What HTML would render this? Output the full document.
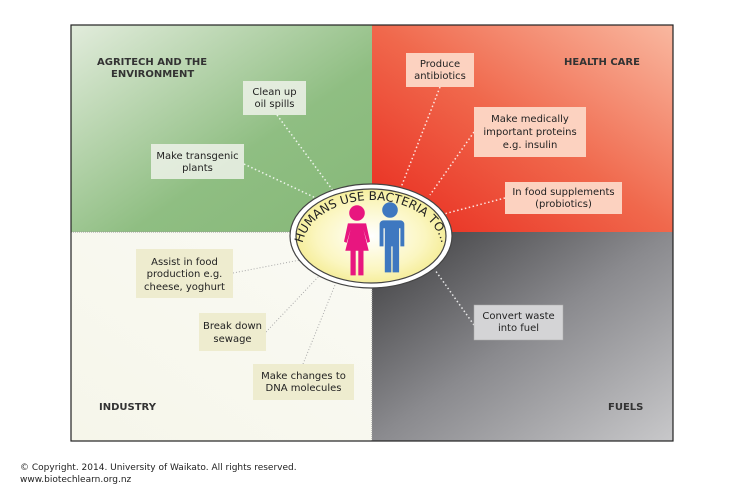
<!DOCTYPE html>
<html><head><style>
body{margin:0;background:#fff;width:750px;height:500px;overflow:hidden;font-family:"DejaVu Sans","Liberation Sans",sans-serif;}
</style></head><body>
<svg width="750" height="500" xmlns="http://www.w3.org/2000/svg" font-family="DejaVu Sans, Liberation Sans, sans-serif">
<defs>
<linearGradient id="g1" x1="0" y1="0" x2="1" y2="1"><stop offset="0" stop-color="#e2ecdc"/><stop offset="0.6" stop-color="#8fbe82"/><stop offset="1" stop-color="#86b878"/></linearGradient>
<linearGradient id="g2" x1="0" y1="1" x2="1" y2="0"><stop offset="0" stop-color="#e8281c"/><stop offset="0.5" stop-color="#f0684c"/><stop offset="1" stop-color="#f9b8a0"/></linearGradient>
<linearGradient id="g3" x1="0" y1="1" x2="1" y2="0"><stop offset="0" stop-color="#f6f6ea"/><stop offset="1" stop-color="#fafaf4"/></linearGradient>
<linearGradient id="g4" x1="0" y1="0" x2="1" y2="1"><stop offset="0" stop-color="#3a3a3c"/><stop offset="0.5" stop-color="#8a8a8e"/><stop offset="1" stop-color="#c8c8ca"/></linearGradient>
<radialGradient id="ge" cx="0.5" cy="0.5" r="0.6"><stop offset="0" stop-color="#ffffff"/><stop offset="0.6" stop-color="#fbf6c0"/><stop offset="1" stop-color="#f2e882"/></radialGradient>
<path id="arc" d="M 302 250 A 70 50 0 0 1 442 250"/>
</defs>
<rect x="71" y="25" width="301" height="207" fill="url(#g1)"/>
<rect x="372" y="25" width="301" height="207" fill="url(#g2)"/>
<rect x="71" y="232" width="301" height="209" fill="url(#g3)"/>
<rect x="372" y="232" width="301" height="209" fill="url(#g4)"/>
<line x1="71" y1="232" x2="372" y2="232" stroke="#999" stroke-dasharray="1,1"/>
<line x1="372" y1="232" x2="372" y2="441" stroke="#999" stroke-dasharray="1,1"/>
<rect x="71" y="25" width="602" height="416" fill="none" stroke="#222" stroke-width="1.2"/>
<g stroke="#fff" stroke-width="1.5" stroke-dasharray="1.5,2.5" fill="none" opacity="0.85">
<line x1="277" y1="115" x2="340" y2="200"/>
<line x1="244" y1="164" x2="320" y2="200"/>
<line x1="440" y1="87" x2="400" y2="190"/>
<line x1="474" y1="132" x2="430" y2="195"/>
<line x1="505" y1="198" x2="440" y2="215"/>
<line x1="474" y1="325" x2="435" y2="270"/>
</g>
<g stroke="#aaa" stroke-width="1" stroke-dasharray="1,2" fill="none">
<line x1="233" y1="273" x2="300" y2="260"/>
<line x1="266" y1="332" x2="320" y2="275"/>
<line x1="303" y1="364" x2="335" y2="285"/>
</g>
<ellipse cx="371" cy="236" rx="81" ry="52" fill="#fff" stroke="#444" stroke-width="1.2"/>
<ellipse cx="371" cy="236" rx="75" ry="47" fill="url(#ge)" stroke="#444" stroke-width="1.2"/>
<text font-size="12" fill="#222"><textPath href="#arc" startOffset="50%" text-anchor="middle">HUMANS USE BACTERIA TO...</textPath></text>
<g fill="#e8167f" transform="translate(357,213) scale(1.3) translate(-357,-213)">
<circle cx="357" cy="213" r="6"/>
<path d="M350 221 h14 l3 14 l-2 1 l-3 -10 l4 16 h-4 v19 h-4 v-19 h-2 v19 h-4 v-19 h-4 l4 -16 l-3 10 l-2 -1 z"/>
</g>
<g fill="#3e78c0" transform="translate(390,210) scale(1.3) translate(-390,-212)">
<circle cx="390" cy="212" r="6"/>
<path d="M382 220 h16 a3 3 0 0 1 3 3 v17 h-3 v-14 h-1 v34 h-5 v-20 h-1 v20 h-5 v-34 h-1 v14 h-3 v-17 a3 3 0 0 1 3 -3 z"/>
</g>
<g fill="#eef2ea" fill-opacity="0.85">
<rect x="243" y="81" width="63" height="34"/>
<rect x="151" y="144" width="93" height="35"/>
</g>
<g fill="#fcd2c0">
<rect x="406" y="53" width="68" height="34"/>
<rect x="474" y="107" width="112" height="50"/>
<rect x="505" y="182" width="117" height="32"/>
</g>
<g fill="#eeeccf">
<rect x="136" y="249" width="97" height="49"/>
<rect x="199" y="313" width="67" height="38"/>
<rect x="253" y="364" width="101" height="36"/>
</g>
<rect x="474" y="305" width="89" height="35" fill="#d4d4d6" stroke="#aaa" stroke-width="0.5"/>
<g font-size="10" fill="#222" text-anchor="middle">
<text x="274.5" y="95">Clean up</text><text x="274.5" y="107">oil spills</text>
<text x="197.5" y="159">Make transgenic</text><text x="197.5" y="171">plants</text>
<text x="440" y="67">Produce</text><text x="440" y="79">antibiotics</text>
<text x="530" y="122">Make medically</text><text x="530" y="135">important proteins</text><text x="530" y="148">e.g. insulin</text>
<text x="563.5" y="195">In food supplements</text><text x="563.5" y="207">(probiotics)</text>
<text x="184.5" y="265">Assist in food</text><text x="184.5" y="277">production e.g.</text><text x="184.5" y="290">cheese, yoghurt</text>
<text x="232.5" y="329">Break down</text><text x="232.5" y="342">sewage</text>
<text x="303.5" y="379">Make changes to</text><text x="303.5" y="391">DNA molecules</text>
<text x="518.5" y="319">Convert waste</text><text x="518.5" y="331">into fuel</text>
</g>
<g font-size="10" font-weight="bold" fill="#333">
<text x="97" y="65">AGRITECH AND THE</text>
<text x="111" y="77">ENVIRONMENT</text>
<text x="564" y="65">HEALTH CARE</text>
<text x="99" y="410">INDUSTRY</text>
<text x="608" y="410">FUELS</text>
</g>
<g font-size="9" fill="#222">
<text x="20" y="470">© Copyright. 2014. University of Waikato. All rights reserved.</text>
<text x="20" y="482">www.biotechlearn.org.nz</text>
</g>
</svg>
</body></html>
